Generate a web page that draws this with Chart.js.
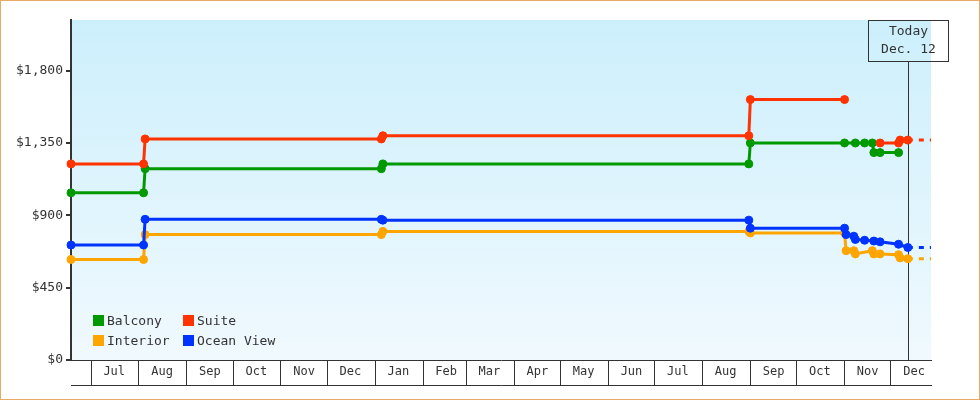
<!DOCTYPE html>
<html>
<head>
<meta charset="utf-8">
<script src="https://cdn.jsdelivr.net/npm/chart.js@4/dist/chart.umd.min.js"></script>
<style>
  body { margin: 0; background: #fff; }
  #wrap { position: relative; width: 980px; height: 400px; box-sizing: border-box; border: 1px solid #e9aa66; }
  #wrap canvas { display: block; }
  #legend { position: absolute; left: 92px; top: 312px; display: grid; grid-template-columns: 90px auto; row-gap: 6px;
            font: 13px "DejaVu Sans Mono", monospace; color: #333; }
  #legend .item { display: flex; align-items: center; height: 14px; }
  #legend .sw { display: inline-block; width: 11px; height: 11px; margin-right: 3px; }
</style>
</head>
<body>
<div id="wrap">
  <canvas id="chart" width="978" height="398"></canvas>
  <div id="legend"></div>
</div>
<script>
// axis range and today marker
var axisStart = '2022-06-18';
var axisEnd = '2023-12-27';
var todayDate = '2023-12-12';
var todayLabel = ['Today', 'Dec. 12'];

var monthLabels = ['Jul', 'Aug', 'Sep', 'Oct', 'Nov', 'Dec', 'Jan', 'Feb', 'Mar',
                   'Apr', 'May', 'Jun', 'Jul', 'Aug', 'Sep', 'Oct', 'Nov', 'Dec'];
var firstMonth = [2022, 6]; // July 2022 (0-based month)
var yTicks = [0, 450, 900, 1350, 1800];
var yMax = 2115;

// price history, one pair of arrays per cabin type (null = not available)
var balconyDates = ['2022-06-18', '2022-08-04', '2022-08-05', '2023-01-05', '2023-01-06', '2023-08-31', '2023-09-01',
                    '2023-11-01', '2023-11-08', '2023-11-14', '2023-11-19', '2023-11-20', '2023-11-24', '2023-12-06'];
var balconyPrices = [1040, 1040, 1190, 1190, 1220, 1220, 1350,
                     1350, 1350, 1350, 1350, 1290, 1290, 1290];

var suiteDates = ['2022-06-18', '2022-08-04', '2022-08-05', '2023-01-05', '2023-01-06', '2023-08-31', '2023-09-01',
                  '2023-11-01', '2023-11-10', '2023-11-24', '2023-12-06', '2023-12-07', '2023-12-12'];
var suitePrices = [1220, 1220, 1375, 1375, 1395, 1395, 1620,
                   1620, null, 1350, 1350, 1368, 1368];

var interiorDates = ['2022-06-18', '2022-08-04', '2022-08-05', '2023-01-05', '2023-01-06', '2023-08-31', '2023-09-01',
                     '2023-11-01', '2023-11-02', '2023-11-07', '2023-11-08', '2023-11-19', '2023-11-20', '2023-11-24',
                     '2023-12-06', '2023-12-07', '2023-12-12'];
var interiorPrices = [625, 625, 780, 780, 800, 800, 790,
                      790, 680, 680, 660, 680, 660, 660,
                      655, 635, 630];

var oceanDates = ['2022-06-18', '2022-08-04', '2022-08-05', '2023-01-05', '2023-01-06', '2023-08-31', '2023-09-01',
                  '2023-11-01', '2023-11-02', '2023-11-07', '2023-11-08', '2023-11-14', '2023-11-20', '2023-11-24',
                  '2023-12-06', '2023-12-12'];
var oceanPrices = [715, 715, 875, 875, 870, 870, 820,
                   820, 780, 770, 750, 745, 740, 735,
                   720, 700];

// these get a dashed line from today to the end of the axis
var projected = ['Suite', 'Interior', 'Ocean View'];

function day(d) {
    return (Date.parse(d) - Date.parse(axisStart)) / 86400000;
}

// month boundaries (separators) and mid points (labels)
var bounds = [], mids = [], midLabel = {};
for (var i = 0; i < monthLabels.length; i++) {
    var y = firstMonth[0] + Math.floor((firstMonth[1] + i) / 12);
    var m = (firstMonth[1] + i) % 12;
    var start = (Date.UTC(y, m, 1) - Date.parse(axisStart)) / 86400000;
    bounds.push(start);
    mids.push(start + 15);
    midLabel[start + 15] = monthLabels[i];
}
var xTicks = bounds.concat(mids).sort(function(a, b) { return a - b; });

function series(label, dates, prices, color, order) {
    var data = [];
    for (var i = 0; i < dates.length; i++) {
        data.push({x: day(dates[i]), y: prices[i]});
    }
    var proj = projected.indexOf(label) >= 0;
    if (proj) {
        data.push({x: day(axisEnd), y: prices[prices.length - 1]});
    }
    var n = data.length;
    return {
        label: label,
        data: data,
        borderColor: color,
        backgroundColor: color,
        borderWidth: 3,
        pointRadius: function(ctx) { return (proj && ctx.dataIndex === n - 1) ? 0 : 4; },
        pointBorderWidth: 1,
        pointHoverRadius: 4,
        tension: 0,
        clip: false,
        order: order,
        segment: {
            borderDash: function(ctx) { return (proj && ctx.p1DataIndex === n - 1) ? [5, 6] : undefined; }
        }
    };
}

var datasets = [
    series('Balcony', balconyDates, balconyPrices, '#009900', 2),
    series('Suite', suiteDates, suitePrices, '#ff3300', 0),
    series('Interior', interiorDates, interiorPrices, '#ffa500', 3),
    series('Ocean View', oceanDates, oceanPrices, '#0033ff', 1)
];

var bgPlugin = {
    id: 'bg',
    beforeDraw: function(chart) {
        var ctx = chart.ctx, a = chart.chartArea;
        var g = ctx.createLinearGradient(0, a.top, 0, a.bottom);
        g.addColorStop(0, '#cceffc');
        g.addColorStop(1, '#f0f9fe');
        ctx.save();
        ctx.fillStyle = g;
        ctx.fillRect(a.left, a.top, a.right - a.left, a.bottom - a.top);
        ctx.restore();
    }
};

var todayPlugin = {
    id: 'today',
    beforeDatasetsDraw: function(chart) {
        var ctx = chart.ctx, a = chart.chartArea;
        var x = Math.round(chart.scales.x.getPixelForValue(day(todayDate))) + 0.5;
        ctx.save();
        ctx.strokeStyle = '#333';
        ctx.lineWidth = 1;
        ctx.beginPath();
        ctx.moveTo(x, a.top + 41);
        ctx.lineTo(x, a.bottom);
        ctx.stroke();
        ctx.restore();
    },
    afterDatasetsDraw: function(chart) {
        var ctx = chart.ctx, a = chart.chartArea;
        var x = Math.round(chart.scales.x.getPixelForValue(day(todayDate))) + 0.5;
        ctx.save();
        ctx.strokeStyle = '#333';
        ctx.lineWidth = 1;
        ctx.strokeRect(x - 40, a.top + 0.5, 80, 41);
        ctx.fillStyle = '#333';
        ctx.font = '13px "DejaVu Sans Mono"';
        ctx.textAlign = 'center';
        ctx.textBaseline = 'middle';
        ctx.fillText(todayLabel[0], x, a.top + 12);
        ctx.fillText(todayLabel[1], x, a.top + 30);
        ctx.restore();
    }
};

Chart.defaults.font.family = '"DejaVu Sans Mono", monospace';
Chart.defaults.color = '#333';

var chart = new Chart(document.getElementById('chart').getContext('2d'), {
    type: 'line',
    data: {datasets: datasets},
    options: {
        responsive: false,
        animation: false,
        events: [],
        layout: {padding: {top: 19, right: 48, bottom: 13, left: 0}},
        plugins: {legend: {display: false}, tooltip: {enabled: false}},
        scales: {
            x: {
                type: 'linear', position: 'bottom', min: 0, max: day(axisEnd), weight: 0,
                afterBuildTicks: function(s) { s.ticks = xTicks.map(function(v) { return {value: v}; }); },
                afterFit: function(s) { s.height = 25; },
                grid: {
                    drawOnChartArea: false, tickLength: 25, lineWidth: 1,
                    color: function(ctx) { return ctx.tick && bounds.indexOf(ctx.tick.value) >= 0 ? '#333' : 'rgba(0,0,0,0)'; }
                },
                border: {color: '#333', width: 1},
                ticks: {
                    autoSkip: false, maxRotation: 0, padding: -20, font: {size: 12}, color: '#333',
                    callback: function(v) { return midLabel[v] || ''; }
                }
            },
            x2: {
                type: 'linear', position: 'bottom', min: 0, max: day(axisEnd), weight: 1,
                afterFit: function(s) { s.height = 1; },
                grid: {display: false, drawTicks: false},
                ticks: {display: false},
                border: {color: '#333', width: 1}
            },
            y: {
                min: 0, max: yMax,
                afterBuildTicks: function(s) { s.ticks = yTicks.map(function(v) { return {value: v}; }); },
                afterFit: function(s) { s.width = 70; },
                grid: {drawOnChartArea: false, tickLength: 5, color: '#333', lineWidth: 2},
                border: {color: '#333', width: 2},
                ticks: {
                    padding: 3, font: {size: 13}, color: '#333',
                    callback: function(v) { return '$' + v.toLocaleString('en-US'); }
                }
            }
        }
    },
    plugins: [bgPlugin, todayPlugin]
});

// html legend, built from the datasets
var legend = document.getElementById('legend');
chart.data.datasets.forEach(function(ds) {
    var item = document.createElement('div');
    item.className = 'item';
    var sw = document.createElement('span');
    sw.className = 'sw';
    sw.style.background = ds.borderColor;
    item.appendChild(sw);
    item.appendChild(document.createTextNode(ds.label));
    legend.appendChild(item);
});
</script>
</body>
</html>
